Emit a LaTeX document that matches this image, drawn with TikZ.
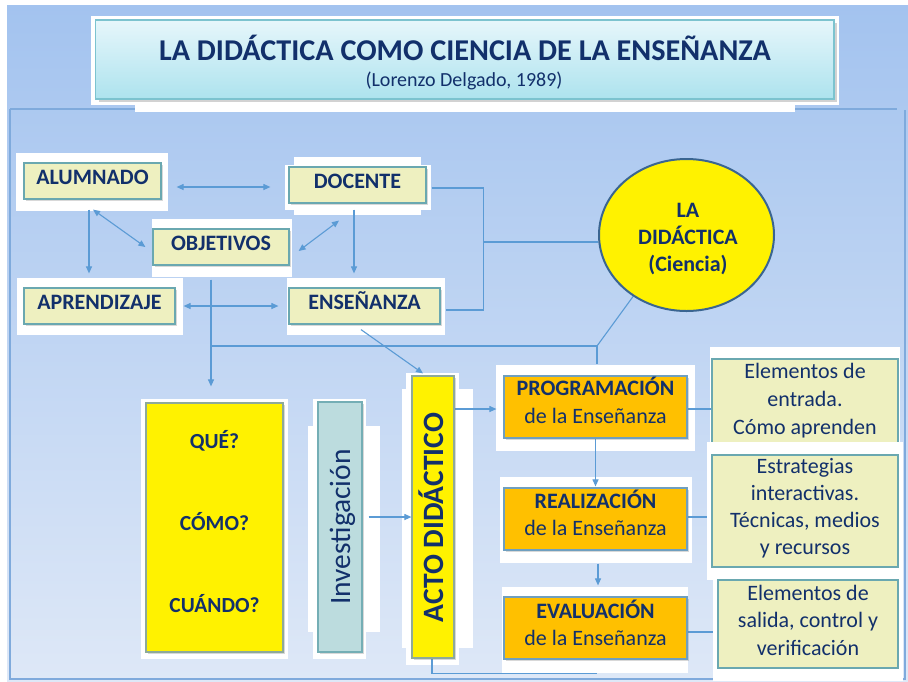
\documentclass[tikz,border=0pt]{standalone}
\usepackage{fontspec}
\setmainfont{Carlito}
\usetikzlibrary{arrows.meta,shadows,shapes.geometric,calc}
\definecolor{navy}{HTML}{12306B}
\definecolor{lineblue}{HTML}{5B9BD5}
\definecolor{framec}{HTML}{7FAADC}
\definecolor{greenfill}{HTML}{EEF0C0}
\definecolor{greenedge}{HTML}{6AA8B0}
\definecolor{orangefill}{HTML}{FFC000}
\definecolor{orangeedge}{HTML}{6F9FBF}
\definecolor{yellowedge}{HTML}{8EAA9A}
\definecolor{invfill}{HTML}{BCDCDE}
\definecolor{invedge}{HTML}{74AEB5}
\definecolor{ellipseedge}{HTML}{3A6591}
\definecolor{bgtop}{HTML}{A3C3EF}
\definecolor{bgbot}{HTML}{DEE8F7}
\definecolor{titletop}{HTML}{E6F6FB}
\definecolor{titlebot}{HTML}{ADE3EE}
\definecolor{titleedge}{HTML}{7CC3CF}
\pgfdeclarelayer{back}
\pgfdeclarelayer{lines}
\pgfsetlayers{back,lines,main}
\tikzset{
  frameline/.style={draw=framec, line width=2pt},
  shad/.style={drop shadow={shadow xshift=1.5pt, shadow yshift=-1.5pt, opacity=0.3}},
  lbox/.style={shad, draw=greenedge, fill=greenfill, line width=1.2pt, inner sep=0pt, text=navy,
    font=\fontsize{22}{27}\selectfont\bfseries, text height=14.2pt, text depth=8pt},
  rbox/.style={draw=greenedge, fill=greenfill, line width=1.2pt, inner sep=0pt},
  obox/.style={shad, draw=orangeedge, fill=orangefill, line width=1.2pt, inner sep=0pt,
    minimum width=183pt, minimum height=62pt},
  ybox/.style={shad, draw=yellowedge, fill=yellow, line width=1.2pt, inner sep=0pt},
  ibox/.style={shad, draw=invedge, fill=invfill, line width=1.2pt, inner sep=0pt},
  txt/.style={text=navy, align=center, inner sep=0pt},
  bt/.style={text=navy, inner sep=0pt, anchor=base, font=\fontsize{21.5}{25}\selectfont\bfseries},
  ln/.style={draw=lineblue, line width=1.1pt},
  arr/.style={ln, -{Triangle[length=7pt,width=6pt]}},
  dbl/.style={ln, {Triangle[length=7pt,width=6pt]}-{Triangle[length=7pt,width=6pt]}},
  titlebox/.style={drop shadow={shadow xshift=3pt, shadow yshift=-3pt, opacity=0.35},
    top color=titletop, bottom color=titlebot, draw=titleedge, line width=1.2pt,
    minimum width=738.5pt, minimum height=79pt, inner sep=0pt}
}
\begin{document}
\begin{tikzpicture}[x=1pt,y=-1pt]
\useasboundingbox (0,0) rectangle (908,681);
\begin{pgfonlayer}{back}
  \fill[white] (0,0) rectangle (908,681);
  \shade[top color=bgtop,bottom color=bgbot] (7,5) rectangle (908,681);
  \draw[frameline] (10,109) -- (897,109);
  \draw[frameline] (905,110) -- (905,679) -- (10,679) -- (10,109);
  % white backings
  \fill[white] (91,16) rectangle (839,105);
  \fill[white] (135,99) rectangle (795,112);
  \fill[white] (16,153) rectangle (168,211);
  \fill[white] (285,165) rectangle (431,210);
  \fill[white] (294,157) rectangle (421,215);
  \fill[white] (152,219) rectangle (292,277);
  \fill[white] (17,278) rectangle (183,335);
  \fill[white] (287,278) rectangle (445,335);
  \fill[white] (141,399) rectangle (288,659);
  \fill[white] (313,399) rectangle (366,659);
  \fill[white] (308,426) rectangle (380,632);
  \fill[white] (406,373) rectangle (459,665);
  \fill[white] (402,389) rectangle (473,648);
  \fill[white] (496,365) rectangle (695,451);
  \fill[white] (500,477) rectangle (692,563);
  \fill[white] (502,587) rectangle (688,673);
  \fill[white] (710,347) rectangle (900,445);
\end{pgfonlayer}

% title
\node[titlebox] (title) at (464.75,59.5) {};
\node[anchor=base, inner sep=0pt, text=navy, font=\fontsize{30.2}{35}\selectfont\bfseries] (t1) at (465,60) {LA DIDÁCTICA COMO CIENCIA DE LA ENSEÑANZA};
\node[anchor=base, inner sep=0pt, text=navy, font=\fontsize{20}{24}\selectfont] (t2) at (464,86) {(Lorenzo Delgado, 1989)};

% upper concept boxes
\node[lbox, minimum width=137pt, minimum height=36pt] (alum) at (92.5,181) {ALUMNADO};
\node[lbox, minimum width=137pt, minimum height=36pt] (doc) at (357.5,185) {DOCENTE};
\node[lbox, minimum width=136pt, minimum height=36pt] (obj) at (221,247) {OBJETIVOS};
\node[lbox, minimum width=151pt, minimum height=36pt] (apr) at (99.5,306) {APRENDIZAJE};
\node[lbox, minimum width=151pt, minimum height=36pt] (ens) at (364.5,306) {ENSEÑANZA};

% ellipse
\node[ellipse, draw=ellipseedge, line width=2pt, fill=yellow, minimum width=175pt, minimum height=152pt, inner sep=0pt] (did) at (686.5,235) {};
\node[txt, font=\fontsize{22}{27}\selectfont\bfseries] (didt) at (688,238.6) {\strut LA\\\strut DIDÁCTICA\\\strut (Ciencia)};

% QUE box
\node[ybox, minimum width=137pt, minimum height=249pt] (que) at (214.5,527.5) {};
\node[bt] (q1) at (214.5,448) {QUÉ?};
\node[bt] (q2) at (214.5,530) {CÓMO?};
\node[bt] (q3) at (214.5,612) {CUÁNDO?};

% Investigacion
\node[ibox, minimum width=44pt, minimum height=250pt] (inv) at (340,527) {};
\node[anchor=base, rotate=90, inner sep=0pt, text=navy, font=\fontsize{29.5}{34}\selectfont] (invt) at (350,527) {Investigación};

% Acto didactico
\node[ybox, minimum width=42pt, minimum height=282pt] (acto) at (433,517) {};
\node[anchor=base, rotate=90, inner sep=0pt, text=navy, font=\fontsize{29.5}{34}\selectfont\bfseries] (actot) at (443,517.5) {ACTO DIDÁCTICO};

% orange boxes
\node[obox] (prog) at (595.5,407) {};
\node[txt, font=\fontsize{22}{27.5}\selectfont] (progt) at (595.5,404) {\textbf{PROGRAMACIÓN}\strut\\\strut de la Enseñanza};
\node[obox] (real) at (595.5,519) {};
\node[txt, font=\fontsize{22}{27.5}\selectfont] (realt) at (595.5,516.3) {\textbf{REALIZACIÓN}\strut\\\strut de la Enseñanza};
\node[obox] (eval) at (595.5,628) {};
\node[txt, font=\fontsize{22}{27.5}\selectfont] (evalt) at (595.5,626.3) {\textbf{EVALUACIÓN}\strut\\\strut de la Enseñanza};

% right boxes
\node[rbox, minimum width=186pt, minimum height=88pt] (r1) at (805,403) {};
\fill[white] (707,442) rectangle (903,580);
\node[rbox, minimum width=186pt, minimum height=112pt] (r2) at (805,511) {};
\fill[white] (713,570) rectangle (903,681);
\node[rbox, minimum width=180pt, minimum height=88pt] (r3) at (808,624) {};
\node[txt, font=\fontsize{22}{28}\selectfont] (r1t) at (805,400.7) {\strut Elementos de\\\strut entrada.\\\strut Cómo aprenden};
\node[txt, font=\fontsize{22}{27}\selectfont] (r2t) at (805,508.1) {\strut Estrategias\\\strut interactivas.\\\strut Técnicas, medios\\\strut y recursos};
\node[txt, font=\fontsize{22}{27.5}\selectfont] (r3t) at (808,622) {\strut Elementos de\\\strut salida, control y\\\strut verificación};

\begin{pgfonlayer}{lines}
  \draw[dbl] ([shift={(15,6)}]alum.east) -- ([shift={(-18,2)}]doc.west);
  \draw[dbl] ([shift={(0.5,10)}]alum.south) -- ([shift={(-7,0)}]obj.west);
  \draw[dbl] ([shift={(9,4)}]obj.east) -- ([shift={(-18.5,17)}]doc.south);
  \draw[arr] ([shift={(-3.5,10)}]alum.south) -- ([shift={(-10.5,-14)}]apr.north);
  \draw[arr] ([shift={(-3.5,6)}]doc.south) -- ([shift={(-10.5,-14)}]ens.north);
  \draw[dbl] ([shift={(8,0)}]apr.east) -- ([shift={(-10,0)}]ens.west);
  \draw[ln] ([shift={(5,3)}]doc.east) -| ([shift={(43,4)}]ens.east) -- ([shift={(5,4)}]ens.east);
  \coordinate (j1) at (483,242);
  \draw[ln] (j1) -- (j1 -| did.west);
  \draw[arr] ([shift={(-10,14)}]obj.south) -- ([shift={(-3.5,-16)}]que.north);
  \coordinate (k) at (597,346);
  \coordinate (m) at (211,346);
  \draw[ln] (m) -- (k);
  \draw[ln] (k) -- (did.229);
  \draw[ln] (k) -- ([shift={(1.5,-11)}]prog.north);
  \draw[arr] ([shift={(-3.5,5)}]ens.south) -- ([shift={(-10,-2)}]acto.north);
  \draw[arr] ([shift={(6,-10)}]inv.east) -- (acto.west);
  \draw[arr] ($(prog.west -| acto.east)+(0,2)$) -- ($(prog.west)+(-7,2)$);
  \draw[ln] ([shift={(-1,0)}]acto.south) |- ([shift={(1.5,14)}]eval.south);
  \draw[arr] (prog.south) -- ([shift={(0,-1)}]real.north);
  \draw[arr] ([shift={(2.5,13)}]real.south) -- ([shift={(2.5,-11)}]eval.north);
  \draw[ln] ($(prog.east)+(0,2)$) -- ($(prog.east -| r1.west)+(0,2)$);
  \draw[ln] ($(real.east)+(0,-2)$) -- ($(real.east -| r2.west)+(0,-2)$);
  \draw[ln] ($(eval.east)+(0,4)$) -- ($(eval.east -| r3.west)+(0,4)$);
\end{pgfonlayer}
\end{tikzpicture}
\end{document}
